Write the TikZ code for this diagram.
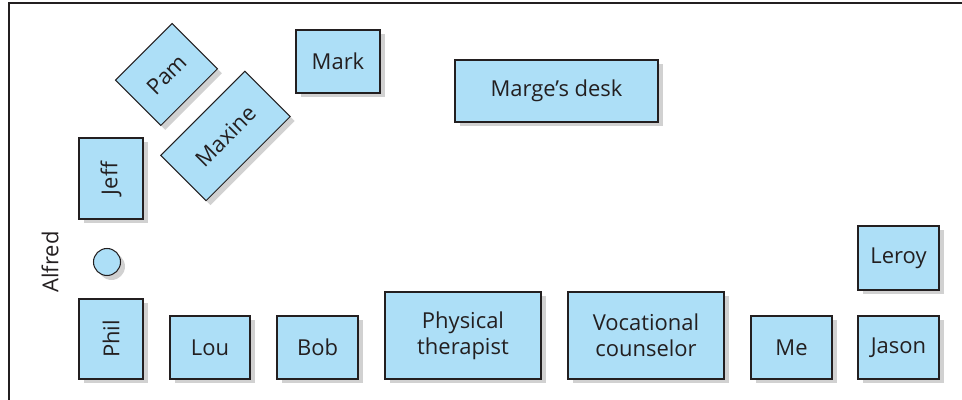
\documentclass[tikz,border=0pt]{standalone}
\usepackage{fontspec}
\setsansfont{Open Sans}
\usepackage{xcolor}
\usepackage{tikz}
\usetikzlibrary{shadows}
\definecolor{officeInk}{HTML}{231F20}
\definecolor{deskBlue}{HTML}{ADDFF7}

\begin{document}
\begin{tikzpicture}[
  desk/.style={draw=officeInk, line width=0.6pt, fill=deskBlue, text=officeInk,
    font=\sffamily\fontsize{12.5}{14.7}\selectfont, align=center, inner sep=0pt,
    drop shadow={shadow xshift=0.09cm, shadow yshift=-0.09cm, fill=black!18, opacity=1}},
  seat/.style={desk, circle, minimum size=0.54cm}
]
  \useasboundingbox (0,0) rectangle (19.24,8.0);
  \draw[officeInk, line width=0.9pt] (0.18,0) -- (0.18,7.94) -- (19.24,7.94);

  % top of the room
  \node[desk, rotate=45, minimum width=1.6cm, minimum height=1.28cm] (pam) at (3.33,6.51) {Pam};
  \node[desk, rotate=45, minimum width=2.38cm, minimum height=1.28cm] (maxine) at (4.51,5.28) {Maxine};
  \node[desk, minimum width=1.68cm, minimum height=1.26cm] (mark) at (6.76,6.77) {Mark};
  \node[desk, minimum width=4.06cm, minimum height=1.24cm] (marge) at (11.13,6.18) {Marge’s desk};

  % left wall
  \node[desk, rotate=90, minimum width=1.62cm, minimum height=1.28cm] (jeff) at (2.22,4.43) {Jeff};
  \node[seat] (alfredSeat) at (2.14,2.76) {};
  \node[rotate=90, text=officeInk, font=\sffamily\fontsize{12.5}{14.7}\selectfont] (alfred) at (1.0,2.76) {Alfred};
  \node[desk, rotate=90, minimum width=1.6cm, minimum height=1.28cm] (phil) at (2.22,1.22) {Phil};

  % bottom row
  \node[desk, minimum width=1.6cm, minimum height=1.26cm] (lou) at (4.2,1.05) {Lou};
  \node[desk, minimum width=1.62cm, minimum height=1.26cm] (bob) at (6.35,1.05) {Bob};
  \node[desk, minimum width=3.12cm, minimum height=1.74cm] (physical) at (9.26,1.29) {Physical\\therapist};
  \node[desk, minimum width=3.12cm, minimum height=1.74cm] (vocational) at (12.92,1.29) {Vocational\\counselor};
  \node[desk, minimum width=1.62cm, minimum height=1.26cm] (me) at (15.83,1.05) {Me};
  \node[desk, minimum width=1.62cm, minimum height=1.26cm] (jason) at (17.97,1.05) {Jason};
  \node[desk, minimum width=1.62cm, minimum height=1.28cm] (leroy) at (17.97,2.84) {Leroy};
\end{tikzpicture}
\end{document}
